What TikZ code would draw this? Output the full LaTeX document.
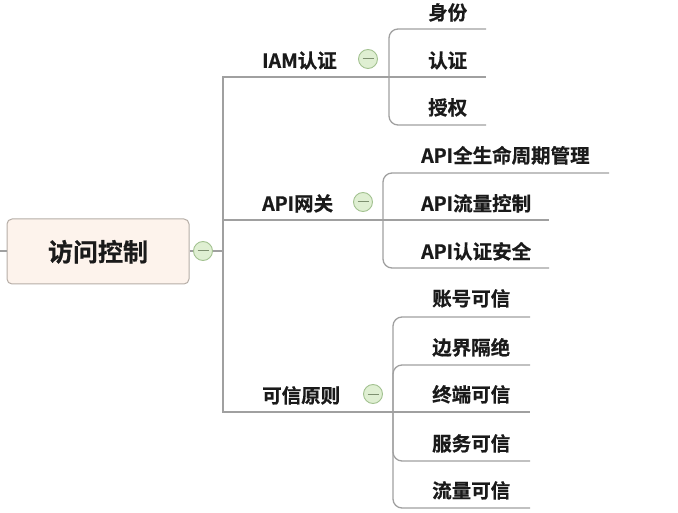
\documentclass[tikz,border=0pt]{standalone}
\usepackage{fontspec}
\newfontfamily\cjk{Noto Sans CJK SC}[BoldFont={Noto Sans CJK SC Bold}, BoldFeatures={FakeBold=0.6}]
\definecolor{linegray}{HTML}{A0A0A0}
\definecolor{rootfill}{HTML}{FDF3EC}
\definecolor{rootdraw}{HTML}{B5ADA6}
\definecolor{cfill}{HTML}{DFEFD2}
\definecolor{cdraw}{HTML}{A3C291}
\definecolor{cminus}{HTML}{7E9070}
\definecolor{txt}{HTML}{1A1A1A}
\tikzset{
  conn/.style={draw=linegray, line width=1.3pt},
  elbow/.style={conn, rounded corners=9pt},
  rootbox/.style={draw=rootdraw, fill=rootfill, line width=1pt, rounded corners=5pt,
    minimum width=182pt, minimum height=65pt, inner sep=0pt,
    text height=19.6pt, text depth=0pt,
    font=\cjk\bfseries\fontsize{25}{25}\selectfont, text=txt},
  lbl/.style={anchor=west, inner sep=0pt, text height=15.6pt, text depth=0pt,
    font=\cjk\bfseries\fontsize{19.5}{19.5}\selectfont, text=txt},
  toggle/.style={circle, draw=cdraw, fill=cfill, line width=0.9pt, minimum size=19pt, inner sep=0pt,
    path picture={\draw[cminus, line width=1pt] ([xshift=-5.5pt]path picture bounding box.center) -- ([xshift=5.5pt]path picture bounding box.center);}}
}
\begin{document}
\begin{tikzpicture}[x=1pt,y=-1pt]
\useasboundingbox (0,0) rectangle (678,513);
% root
\node[rootbox] (root) at (98,251.5) {访问控制};
\coordinate (lstub) at (0,251);
\draw[conn] (lstub) -- (root.west |- lstub);
\node[toggle] (rc) at (203,251) {};
\draw[conn] (root.east |- rc) -- (rc.west);
\coordinate (J) at (223,251);
\draw[conn] (rc.east) -- (J);
% main topics
\node[lbl] (iam) at (262,60) {IAM认证};
\node[lbl] (api) at (262,203) {API网关};
\node[lbl] (tr) at (262,395) {可信原则};
\node[toggle] (iamc) at (368,59) {};
\node[toggle] (apic) at (363,202) {};
\node[toggle] (trc) at (373,394) {};
\coordinate (iamU2) at (486,77);
\coordinate (apiU2) at (549,220);
\coordinate (trU3) at (530,412);
\draw[conn] (J) |- (iamU2);
\draw[conn] (J) |- (apiU2);
\draw[conn] (J) |- (trU3);
% IAM children
\node[lbl] (c11) at (428,12) {身份};
\node[lbl] (c12) at (428,60) {认证};
\node[lbl] (c13) at (428,107) {授权};
\coordinate (iamJ) at (389,77);
\coordinate (iamU1) at (486,29);
\coordinate (iamU3) at (486,125);
\draw[elbow] (iamJ) |- (iamU1);
\draw[elbow] (iamJ) |- (iamU3);
% API children
\node[lbl] (c21) at (421,155) {API全生命周期管理};
\node[lbl] (c22) at (421,203) {API流量控制};
\node[lbl] (c23) at (421,251) {API认证安全};
\coordinate (apiJ) at (383,220);
\coordinate (apiU1) at (609,173);
\coordinate (apiU3) at (549,268);
\draw[elbow] (apiJ) |- (apiU1);
\draw[elbow] (apiJ) |- (apiU3);
% trust children
\node[lbl] (c31) at (432,298) {账号可信};
\node[lbl] (c32) at (432,347) {边界隔绝};
\node[lbl] (c33) at (432,394) {终端可信};
\node[lbl] (c34) at (432,443) {服务可信};
\node[lbl] (c35) at (432,490) {流量可信};
\coordinate (trJ) at (393,412);
\coordinate (trU1) at (530,317);
\coordinate (trU2) at (530,365);
\coordinate (trU4) at (530,461);
\coordinate (trU5) at (530,508);
\draw[elbow] (trJ) |- (trU1);
\draw[elbow] (trJ) |- (trU2);
\draw[elbow] (trJ) |- (trU4);
\draw[elbow] (trJ) |- (trU5);
\end{tikzpicture}
\end{document}
